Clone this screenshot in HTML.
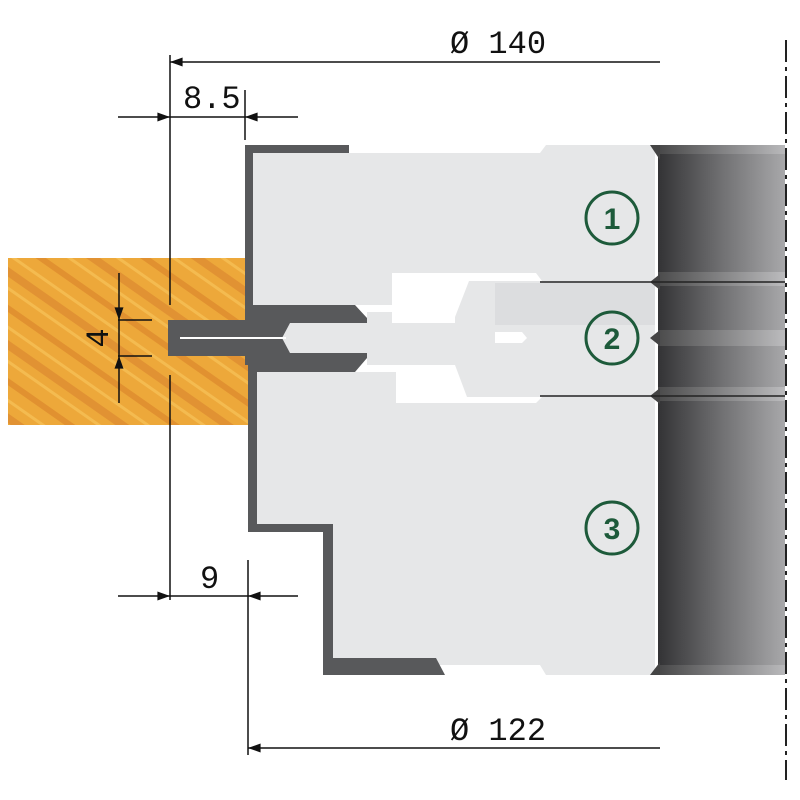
<!DOCTYPE html>
<html><head><style>html,body{margin:0;padding:0;background:#fff}svg{display:block}</style></head><body>
<svg width="800" height="800" viewBox="0 0 800 800" xmlns="http://www.w3.org/2000/svg">
<defs>
<linearGradient id="cyl" x1="0" x2="1" y1="0" y2="0">
<stop offset="0" stop-color="#333335"/><stop offset="0.5" stop-color="#707072"/><stop offset="1" stop-color="#a8a8aa"/></linearGradient>
<linearGradient id="band" x1="0" x2="1"><stop offset="0" stop-color="#555"/><stop offset="1" stop-color="#c4c4c6"/></linearGradient>
<pattern id="grain" width="60" height="60" patternUnits="userSpaceOnUse" patternTransform="rotate(35)">
<rect width="60" height="60" fill="#eda83a"/>
<rect x="0" y="5" width="60" height="6" fill="#d9822a" opacity="0.6"/>
<rect x="0" y="22" width="60" height="3" fill="#f7c45a" opacity="0.7"/>
<rect x="0" y="34" width="60" height="8" fill="#d4782a" opacity="0.45"/>
<rect x="0" y="50" width="60" height="3" fill="#f7c45a" opacity="0.7"/>
</pattern>
<marker id="ar" viewBox="0 0 14 10" refX="14" refY="5" markerWidth="16" markerHeight="9" orient="auto-start-reverse" markerUnits="userSpaceOnUse"><path d="M0,0 L14,5 L0,10z" fill="#111"/></marker>
</defs>

<rect x="8" y="258" width="240" height="167" fill="url(#grain)"/>

<path d="M253,153 L540,153 L546,145 L655,145 L655,675 L546,675 L540,665 L333,665 L333,532 L257,532 L257,372 L367,372 L367,353 L282,353 L282,323 L367,323 L367,305 L253,305Z" fill="#e6e7e8"/>
<path d="M392,273 L536,273 L542,281 L469,281 L455,317 L455,323 L392,323 L392,312 L367,312 L367,305 L392,305Z" fill="#fff"/>
<path d="M396,365 L455,365 L467,397 L542,397 L536,403 L396,403Z" fill="#fff"/>
<path d="M455,353 L367,353 L367,365 L455,365Z" fill="#e6e7e8"/>
<rect x="367" y="365" width="29" height="7" fill="#fff"/>
<rect x="495" y="283" width="160" height="42" fill="#dcdddf"/>
<path d="M495,332 L522,332 L527,338 L522,343 L495,343Z" fill="#fff"/>

<g fill="#58595b">
<path d="M245,145 L349,145 L349,153 L253,153 L253,305 L355,305 L367,318 L367,323 L290,323 L282,338 L290,353 L367,353 L367,358 L355,372 L257,372 L257,524 L333,524 L333,658 L436,658 L445,675 L323,675 L323,532 L248,532 L248,365 L245,365 Z"/>
<rect x="168" y="320" width="82" height="36"/>
</g>
<line x1="180" y1="338" x2="286" y2="338" stroke="#fff" stroke-width="2"/>

<rect x="658" y="145" width="127" height="530" fill="url(#cyl)"/>
<rect x="658" y="145" width="127" height="9" fill="url(#band)" opacity="0.6"/>
<rect x="658" y="272" width="127" height="14" fill="url(#band)" opacity="0.7"/>
<rect x="658" y="330" width="127" height="16" fill="url(#band)" opacity="0.7"/>
<rect x="658" y="387" width="127" height="14" fill="url(#band)" opacity="0.7"/>
<rect x="658" y="665" width="127" height="10" fill="url(#band)" opacity="0.6"/>
<g fill="#444"><path d="M650,145 L660,145 L660,160Z"/><path d="M650,282 L660,274 L660,290Z"/><path d="M650,338 L660,330 L660,346Z"/><path d="M650,396 L660,388 L660,404Z"/><path d="M650,675 L660,675 L660,662Z"/></g>
<line x1="540" y1="282" x2="785" y2="282" stroke="#222" stroke-width="1.5"/>
<line x1="540" y1="396" x2="785" y2="396" stroke="#222" stroke-width="1.5"/>
<line x1="786" y1="40" x2="786" y2="780" stroke="#222" stroke-width="2" stroke-dasharray="22,5,4,5"/>

<g fill="none" stroke="#1d5a3a" stroke-width="3"><circle cx="612" cy="218" r="26"/><circle cx="612" cy="338" r="26"/><circle cx="612" cy="528" r="26"/></g>
<g font-family="Liberation Sans, sans-serif" font-weight="bold" font-size="30" fill="#1d5a3a" text-anchor="middle"><text x="612" y="229">1</text><text x="612" y="349">2</text><text x="612" y="539">3</text></g>

<g stroke="#111" stroke-width="1.5" fill="none">
<line x1="170" y1="55" x2="170" y2="305"/><line x1="170" y1="375" x2="170" y2="600"/>
<line x1="660" y1="62" x2="170" y2="62" marker-end="url(#ar)"/>
<line x1="118" y1="117" x2="170" y2="117" marker-end="url(#ar)"/>
<line x1="170" y1="117" x2="245" y2="117"/>
<line x1="298" y1="117" x2="245" y2="117" marker-end="url(#ar)"/>
<line x1="245" y1="90" x2="245" y2="140"/>
<line x1="118" y1="596" x2="170" y2="596" marker-end="url(#ar)"/>
<line x1="170" y1="596" x2="248" y2="596"/>
<line x1="298" y1="596" x2="248" y2="596" marker-end="url(#ar)"/>
<line x1="248" y1="560" x2="248" y2="755"/>
<line x1="660" y1="748" x2="248" y2="748" marker-end="url(#ar)"/>
<line x1="119" y1="273" x2="119" y2="320" marker-end="url(#ar)"/>
<line x1="119" y1="403" x2="119" y2="356" marker-end="url(#ar)"/>
<line x1="119" y1="320" x2="119" y2="356"/>
<line x1="118" y1="320" x2="152" y2="320"/><line x1="118" y1="356" x2="152" y2="356"/>
</g>
<g font-family="Liberation Mono, monospace" font-size="32" fill="#111">
<text x="450" y="53">Ø 140</text>
<text x="183" y="108">8.5</text>
<text x="200" y="588">9</text>
<text x="450" y="740">Ø 122</text>
<text transform="translate(108,338) rotate(-90)" text-anchor="middle">4</text>
</g>
</svg>
</body></html>
